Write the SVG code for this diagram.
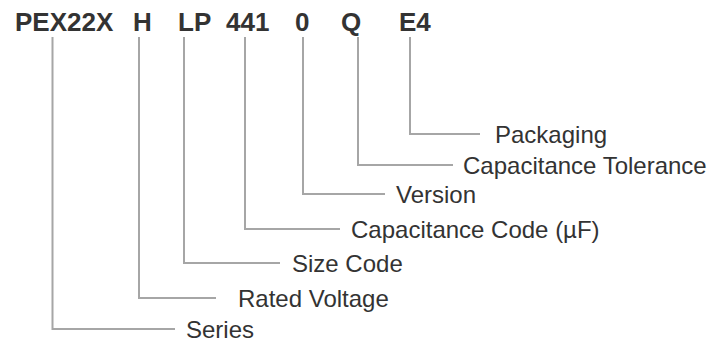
<svg xmlns="http://www.w3.org/2000/svg" width="715" height="342" viewBox="0 0 715 342">
<style>
.code{font-family:"Liberation Sans",Arial,sans-serif;font-weight:bold;font-size:26px;fill:#333333}
.lbl{font-family:"Liberation Sans",Arial,sans-serif;font-size:24px;fill:#333333}
.conn{fill:none;stroke:#a6a6a6;stroke-width:2}
</style>
<rect width="715" height="342" fill="#ffffff"/>
<g id="code">
<text class="code" x="15" y="31">PEX22X</text>
<text class="code" x="133" y="31">H</text>
<text class="code" x="178" y="31">LP</text>
<text class="code" x="226" y="31">441</text>
<text class="code" x="295" y="31">0</text>
<text class="code" x="341" y="31">Q</text>
<text class="code" x="399" y="31">E4</text>
</g>
<g id="connectors">
<polyline class="conn" points="52.5,37 52.5,329 175,329"/>
<polyline class="conn" points="139,37 139,298 216,298"/>
<polyline class="conn" points="184,37 184,263 280,263"/>
<polyline class="conn" points="245,37 245,229 340,229"/>
<polyline class="conn" points="303,37 303,194 385,194"/>
<polyline class="conn" points="358,37 358,165 453,165"/>
<polyline class="conn" points="410,37 410,134 480,134"/>
</g>
<g id="series"><text class="lbl" x="186" y="338">Series</text></g>
<g id="rated-voltage"><text class="lbl" x="238" y="307">Rated Voltage</text></g>
<g id="size-code"><text class="lbl" x="292" y="272">Size Code</text></g>
<g id="capacitance-code"><text class="lbl" x="351" y="238">Capacitance Code (µF)</text></g>
<g id="version"><text class="lbl" x="396" y="203">Version</text></g>
<g id="capacitance-tolerance"><text class="lbl" x="463" y="174">Capacitance Tolerance</text></g>
<g id="packaging"><text class="lbl" x="495" y="143">Packaging</text></g>
</svg>
